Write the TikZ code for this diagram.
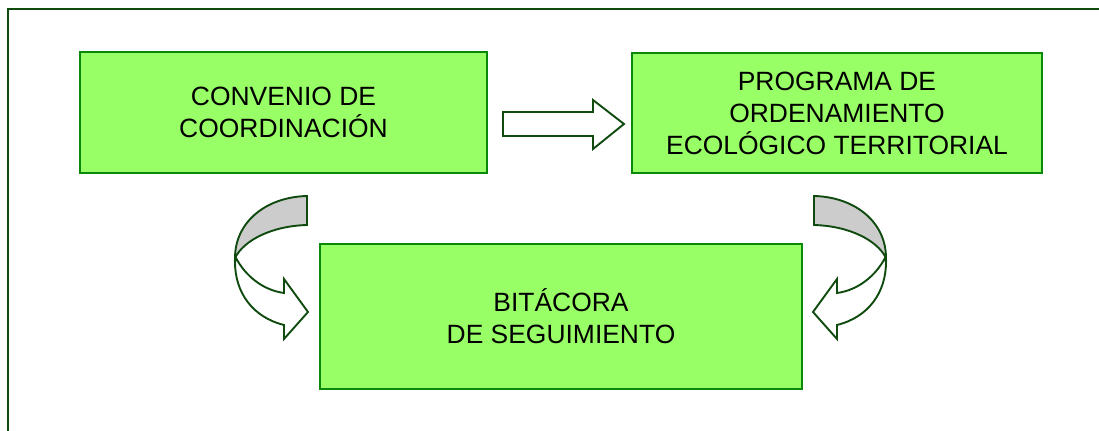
\documentclass[tikz,border=0pt]{standalone}
\usepackage{fontspec}
\setmainfont{Liberation Sans}
\definecolor{boxgreen}{HTML}{99FF66}
\definecolor{boxline}{HTML}{0A880A}
\definecolor{darkline}{HTML}{0F4A0F}
\definecolor{backgrey}{HTML}{CCCCCC}
\begin{document}
\begin{tikzpicture}[x=0.025cm,y=-0.025cm,
  box/.style={draw=boxline,line width=1.6pt,fill=boxgreen,align=center,
    font=\fontsize{18.8}{22.7}\selectfont,inner sep=0pt},
  blockarrow/.style={draw=darkline,line width=1.35pt,line join=miter,fill=white},
  backpart/.style={draw=darkline,line width=1.35pt,fill=backgrey}]
  \useasboundingbox (0,0) rectangle (1099,431);
  % Rahmen
  \draw[darkline,line width=1.5pt] (1099,9) -- (8,9) -- (8,431);
  % Kaesten
  \node[box,minimum width=407*0.025cm,minimum height=121*0.025cm] (conv) at (283.5,112.5)
    {CONVENIO DE\\COORDINACIÓN};
  \node[box,minimum width=410*0.025cm,minimum height=120*0.025cm] (prog) at (837,113)
    {PROGRAMA DE\\ORDENAMIENTO\\ECOLÓGICO TERRITORIAL};
  \node[box,minimum width=482*0.025cm,minimum height=145*0.025cm] (bita) at (561,316.5)
    {BITÁCORA\\DE SEGUIMIENTO};
  % Pfeil oben
  \draw[blockarrow] (503,112) -- (593,112) -- (593,100) -- (624,124)
    -- (593,149) -- (593,136) -- (503,136) -- cycle;
  % gebogener Pfeil links
  \draw[backpart] (307,196) .. controls (266,197) and (235,222) .. (235,258)
    .. controls (244,240) and (272,226) .. (307,225) -- cycle;
  \draw[blockarrow] (236,258) .. controls (245,275) and (262,290) .. (284,293)
    -- (284,279) -- (308,312) -- (284,339) -- (284,325)
    .. controls (252,317) and (235,292) .. (235,262) -- cycle;
  % gebogener Pfeil rechts (gespiegelt)
  \begin{scope}[shift={(1121,0)},xscale=-1]
    \draw[backpart] (307,196) .. controls (266,197) and (235,222) .. (235,258)
      .. controls (244,240) and (272,226) .. (307,225) -- cycle;
    \draw[blockarrow] (236,258) .. controls (245,275) and (262,290) .. (284,293)
      -- (284,279) -- (308,312) -- (284,339) -- (284,325)
      .. controls (252,317) and (235,292) .. (235,262) -- cycle;
  \end{scope}
\end{tikzpicture}
\end{document}
